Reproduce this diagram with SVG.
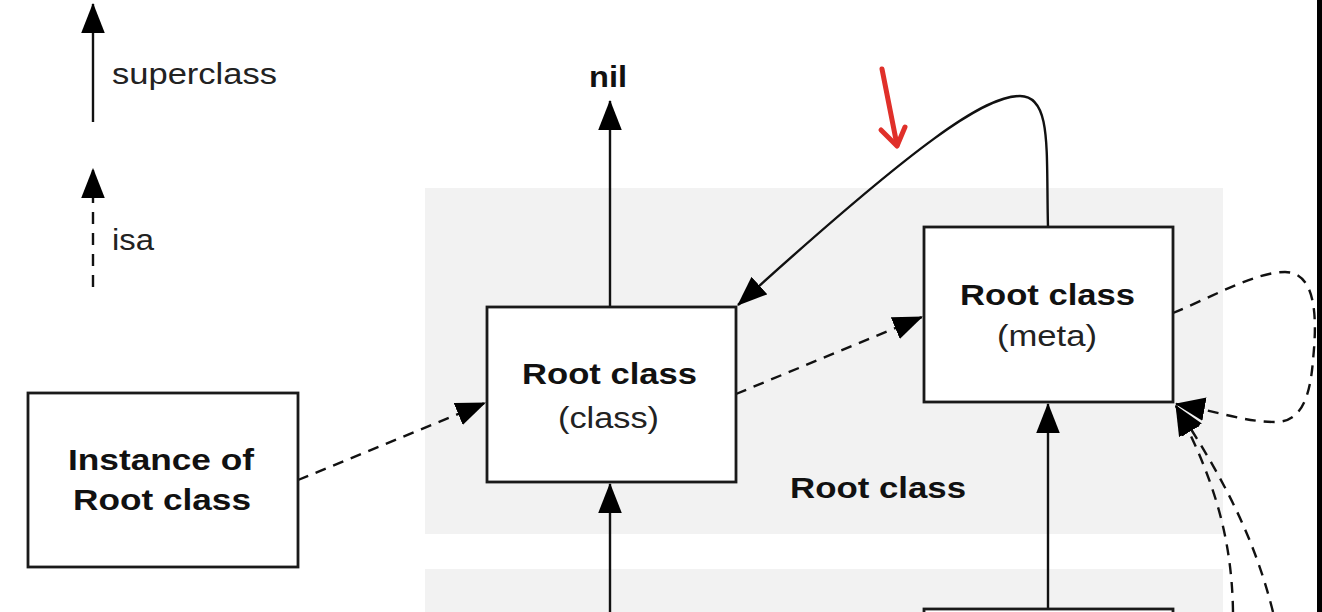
<svg xmlns="http://www.w3.org/2000/svg" width="1322" height="612" viewBox="0 0 1322 612">
<style>
.band{fill:#f2f2f2}
.box{fill:#fff;stroke:#1a1a1a;stroke-width:2.8}
.sol{fill:none;stroke:#111;stroke-width:2.4}
.dash{fill:none;stroke:#111;stroke-width:2.4;stroke-dasharray:11 8}
.b{font-family:"Liberation Sans",Arial,sans-serif;font-weight:bold;font-size:30px;fill:#111}
.r{font-family:"Liberation Sans",Arial,sans-serif;font-size:29px;fill:#222}
</style>
<defs>
<marker id="ah" markerUnits="userSpaceOnUse" markerWidth="30" markerHeight="24" viewBox="0 0 28 22" refX="27" refY="11" orient="auto">
<path d="M0,0 L28,11 L0,22 z" fill="#000"/>
</marker>
</defs>
<rect width="1322" height="612" fill="#fff"/>
<rect class="band" x="425" y="188" width="798" height="346"/>
<rect class="band" x="425" y="569" width="798" height="50"/>
<rect x="1317" y="0" width="5" height="612" fill="#000"/>

<g id="legend">
<line class="sol" x1="93" y1="122" x2="93" y2="4" marker-end="url(#ah)"/>
<text class="r" x="112" y="84" textLength="165" lengthAdjust="spacingAndGlyphs">superclass</text>
<line class="dash" x1="93" y1="287" x2="93" y2="169" marker-end="url(#ah)" style="stroke-dasharray:12 9"/>
<text class="r" x="112" y="250" textLength="42" lengthAdjust="spacingAndGlyphs">isa</text>
</g>

<g id="connectors">
<line class="sol" x1="610" y1="307" x2="610" y2="101" marker-end="url(#ah)"/>
<line class="sol" x1="610" y1="612" x2="610" y2="484" marker-end="url(#ah)"/>
<line class="sol" x1="1048" y1="609" x2="1048" y2="404" marker-end="url(#ah)"/>
<path class="sol" d="M1048,227 C1046,150 1052,96 1020,96 C985,96 920,140 738,305" marker-end="url(#ah)"/>
<path class="dash" d="M298,480 L485,403" marker-end="url(#ah)"/>
<path class="dash" d="M736,394 L922,317" marker-end="url(#ah)"/>
<path class="dash" d="M1173,313 C1210,298 1255,272 1285,272 C1320,272 1316,330 1313,360 C1310,400 1300,422 1275,422 C1245,422 1220,412 1176,404" marker-end="url(#ah)"/>
<path class="dash" d="M1233,612 C1232,540 1215,480 1176,406" marker-end="url(#ah)"/>
<path class="dash" d="M1273,612 C1255,540 1225,480 1176,406" marker-end="url(#ah)"/>
</g>

<g id="nil">
<text class="b" x="589" y="87" font-size="28" textLength="38" lengthAdjust="spacingAndGlyphs">nil</text>
</g>

<g id="instance">
<rect class="box" x="28" y="393" width="270" height="174"/>
<text class="b" x="68" y="470" textLength="186" lengthAdjust="spacingAndGlyphs">Instance of</text>
<text class="b" x="73" y="510" textLength="178" lengthAdjust="spacingAndGlyphs">Root class</text>
</g>

<g id="rootclass">
<rect class="box" x="487" y="307" width="249" height="175"/>
<text class="b" x="522" y="384" textLength="175" lengthAdjust="spacingAndGlyphs">Root class</text>
<text class="r" x="558" y="428" textLength="101" lengthAdjust="spacingAndGlyphs">(class)</text>
</g>

<g id="rootmeta">
<rect class="box" x="924" y="227" width="249" height="175"/>
<text class="b" x="960" y="305" textLength="175" lengthAdjust="spacingAndGlyphs">Root class</text>
<text class="r" x="997" y="346" textLength="100" lengthAdjust="spacingAndGlyphs">(meta)</text>
</g>

<g id="bandlabel">
<text class="b" x="790" y="498" textLength="176" lengthAdjust="spacingAndGlyphs">Root class</text>
</g>

<g id="bottombox">
<rect class="box" x="924" y="609" width="249" height="60"/>
</g>

<g id="redarrow" fill="none" stroke="#e0302a" stroke-width="5" stroke-linecap="round" stroke-linejoin="round">
<path d="M882,69 L897,145"/>
<path d="M881,130 L897,146 L905,127"/>
</g>
</svg>
